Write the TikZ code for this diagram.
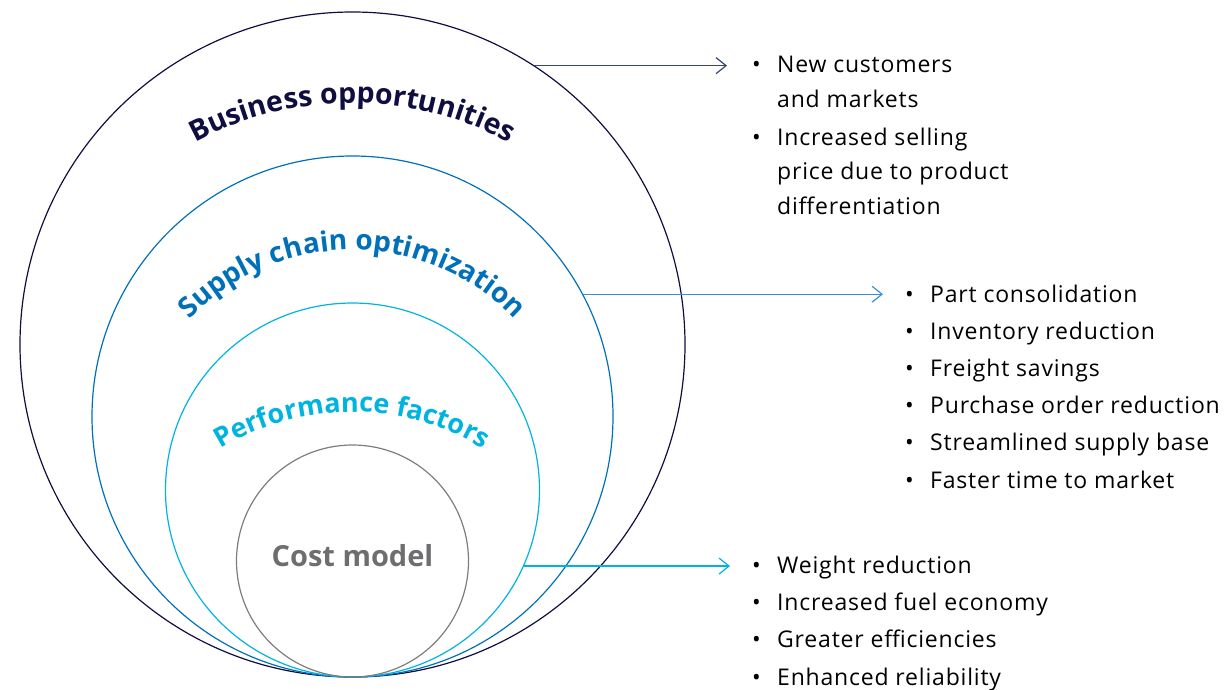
\documentclass[tikz,border=0pt]{standalone}
\usepackage{fontspec}
\setmainfont{Open Sans}
\newfontfamily\listfont[LetterSpace=3.5]{Open Sans}
\usetikzlibrary{arrows.meta, positioning, decorations.text}

\definecolor{navy}{HTML}{0E0E40}
\definecolor{chainblue}{HTML}{0070B8}
\definecolor{perfcyan}{HTML}{00B4E0}
\definecolor{costgrey}{HTML}{6E6E70}
\definecolor{arrownavy}{HTML}{34467A}
\definecolor{arrowblue}{HTML}{3A8ED6}

\newcommand{\arcfont}[1]{\fontsize{#1}{30}\selectfont\bfseries}
\newcommand{\bul}{\makebox[25pt][l]{\textbullet}}
\newcommand{\ind}{\hspace*{25pt}}

\begin{document}
\begin{tikzpicture}[x=1pt, y=1pt,
        % STYLES
        ring/.style={circle, draw=#1, line width=1.2pt, inner sep=0pt, outer sep=0pt},
        bullets/.style={anchor=base west, align=left, inner sep=0pt, font=\listfont\fontsize{23}{34.5}\selectfont, text=black},
        costlabel/.style={font=\arcfont{29}, text=costgrey},
        arclabel/.style={decorate, decoration={text along path, text align=center, text color=#1}},
        % ARROWS
        pointer/.style={-{Straight Barb[length=10pt, width=16pt]}, line width=1.2pt, draw=#1}
    ]
    \useasboundingbox (0,0) rectangle (1232,-689);

    % ===================================
    % 1. Nested circles
    % ===================================
    \node[ring=navy, minimum size=665pt] (business) at (352.5,-344.5) {};
    \node[ring=chainblue, minimum size=521pt] (chain) at (352.5,-416.5) {};
    \node[ring=perfcyan, minimum size=374pt] (perf) at (352.5,-490) {};
    \node[ring=costgrey!90, minimum size=232pt] (cost) at (352.5,-561) {};
    \node[costlabel] (costtext) at (352.5,-556) {Cost model};

    % --- Curved labels ---
    \path[arclabel=navy, decoration={text={|\arcfont{28.5}|Business opportunities}}]
        (352,-433) ++(135:330) arc[start angle=135, end angle=45, radius=330];
    \path[arclabel=chainblue, decoration={text={|\arcfont{28}|Supply chain optimization}}]
        (352,-476) ++(150:226) arc[start angle=150, end angle=30, radius=226];
    \path[arclabel=perfcyan, decoration={text={|\arcfont{27}|Performance factors}}]
        (352,-664) ++(140:252) arc[start angle=140, end angle=40, radius=252];

    % ===================================
    % 2. Lists of benefits
    % ===================================
    % (base = last line)
    \node[bullets] (listbiz) at (752,-214) {\bul New customers\\
        \ind and markets\\[3.5pt]
        \bul Increased selling\\
        \ind price due to product\\
        \ind differentiation};
    \node[bullets] (listchain) at (905,-488) {\bul Part consolidation\\[2.7pt]
        \bul Inventory reduction\\[2.7pt]
        \bul Freight savings\\[2.7pt]
        \bul Purchase order reduction\\[2.7pt]
        \bul Streamlined supply base\\[2.7pt]
        \bul Faster time to market};
    \node[bullets] (listperf) at (752,-685) {\bul Weight reduction\\[2.7pt]
        \bul Increased fuel economy\\[2.7pt]
        \bul Greater efficiencies\\[2.7pt]
        \bul Enhanced reliability};

    % Arrow ends
    \coordinate (endbiz) at (727,-65);
    \coordinate (endchain) at (883,-293);
    \coordinate (endperf) at (730,-566);

    \draw[pointer=arrownavy] (business.57.2) -- (business.57.2 -| endbiz);
    \draw[pointer=arrowblue] (chain.28.3) -- (chain.28.3 -| endchain);
    \draw[pointer=perfcyan] (perf.-24) -- (perf.-24 -| endperf);

\end{tikzpicture}
\end{document}
